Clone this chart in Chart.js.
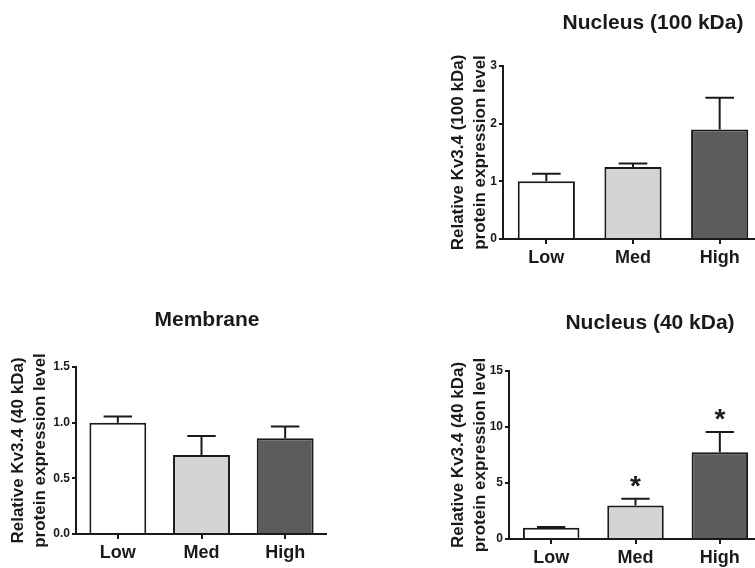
<!DOCTYPE html>
<html>
<head>
<meta charset="utf-8">
<script src="https://cdn.jsdelivr.net/npm/chart.js@4.4.0/dist/chart.umd.min.js"></script>
<style>
  html, body { margin: 0; padding: 0; background: #fff; overflow: hidden; }
  #stage { position: relative; width: 755px; height: 568px; overflow: hidden; }
  #stage canvas { position: absolute; }
</style>
</head>
<body>
<div id="stage"></div>
<script>
const categories = ['Low', 'Med', 'High'];
const barColors = ['#ffffff', '#d4d4d4', '#5c5c5c'];

// Nucleus (100 kDa)
const nuc100Means = [1.0, 1.25, 1.9];
const nuc100Errors = [0.13, 0.06, 0.55];
const nuc100Ticks = [0, 1, 2, 3];

// Membrane
const membraneMeans = [1.0, 0.71, 0.86];
const membraneErrors = [0.055, 0.17, 0.105];
const membraneTicks = [0, 0.5, 1.0, 1.5];

// Nucleus (40 kDa)
const nuc40Means = [1.0, 3.0, 7.75];
const nuc40Errors = [0.07, 0.6, 1.8];
const nuc40Ticks = [0, 5, 10, 15];
const nuc40Stars = ['', '*', '*'];

const FONT = "'Liberation Sans', Arial, sans-serif";
const INK = '#1a1a1a';

// draws upper-only error bars and significance stars (GraphPad style)
const errorBarPlugin = {
    id: 'errorBars',
    afterDatasetsDraw(chart, args, opts) {
        const ctx = chart.ctx;
        const y = chart.scales.y;
        const meta = chart.getDatasetMeta(0);
        const means = chart.data.datasets[0].data;
        ctx.save();
        ctx.strokeStyle = INK;
        ctx.lineWidth = 2;
        meta.data.forEach((bar, i) => {
            const top = y.getPixelForValue(means[i] + opts.errors[i]);
            const half = bar.width * 0.25;
            ctx.beginPath();
            ctx.moveTo(bar.x, bar.y);
            ctx.lineTo(bar.x, top);
            ctx.moveTo(bar.x - half, top);
            ctx.lineTo(bar.x + half, top);
            ctx.stroke();
            const star = (opts.stars || [])[i];
            if (star) {
                ctx.fillStyle = INK;
                ctx.font = 'bold 28px ' + FONT;
                ctx.textAlign = 'center';
                ctx.textBaseline = 'alphabetic';
                ctx.fillText(star, bar.x, top - 4);
            }
        });
        ctx.restore();
    }
};

// panel heading, placed where the original figure has it (not centred on the plot)
const panelTitlePlugin = {
    id: 'panelTitle',
    afterDraw(chart, args, opts) {
        const ctx = chart.ctx;
        ctx.save();
        ctx.fillStyle = INK;
        ctx.font = 'bold 21px ' + FONT;
        ctx.textAlign = 'center';
        ctx.textBaseline = 'middle';
        ctx.fillText(opts.text, opts.x, opts.y);
        ctx.restore();
    }
};

function makePanel(p) {
    const canvas = document.createElement('canvas');
    canvas.width = p.width;
    canvas.height = p.height;
    canvas.style.left = p.left + 'px';
    canvas.style.top = p.top + 'px';
    canvas.style.width = p.width + 'px';
    canvas.style.height = p.height + 'px';
    document.getElementById('stage').appendChild(canvas);

    new Chart(canvas, {
        type: 'bar',
        data: {
            labels: categories,
            datasets: [{
                data: p.means,
                backgroundColor: barColors,
                borderColor: INK,
                borderWidth: 2,
                borderSkipped: 'bottom',
                barPercentage: p.barFrac,
                categoryPercentage: 1
            }]
        },
        options: {
            responsive: false,
            devicePixelRatio: 1,
            animation: false,
            layout: { padding: { left: 0, right: 0, top: p.chartTop, bottom: 0 } },
            plugins: {
                legend: { display: false },
                tooltip: { enabled: false },
                title: { display: false },
                panelTitle: { text: p.title, x: p.titleX, y: p.titleY },
                errorBars: { errors: p.errors, stars: p.stars }
            },
            scales: {
                x: {
                    offset: true,
                    grid: { display: true, drawOnChartArea: false, offset: false, tickLength: 5, color: INK, lineWidth: 2 },
                    border: { display: true, color: INK, width: 2 },
                    ticks: { color: INK, padding: 3, font: { family: FONT, size: 18, weight: 'bold' } },
                    afterFit: s => { s.height = p.height - p.chartBottom; }
                },
                y: {
                    min: 0,
                    max: p.ticks[p.ticks.length - 1],
                    afterBuildTicks: s => { s.ticks = p.ticks.map(v => ({ value: v })); },
                    grid: { display: true, drawOnChartArea: false, tickLength: 4, color: INK, lineWidth: 2 },
                    border: { display: true, color: INK, width: 2 },
                    ticks: {
                        color: INK,
                        padding: 2,
                        font: { family: FONT, size: 12, weight: 'bold' },
                        callback: v => p.decimals ? Number(v).toFixed(p.decimals) : String(v)
                    },
                    title: {
                        display: true,
                        text: p.yTitle,
                        color: INK,
                        font: { family: FONT, size: 17, weight: 'bold', lineHeight: 1.25 },
                        padding: { top: 8, bottom: 0 }
                    },
                    afterFit: s => { s.width = p.yAxisWidth; }
                }
            }
        },
        plugins: [errorBarPlugin, panelTitlePlugin]
    });
}

makePanel({
    title: 'Nucleus (100 kDa)',
    yTitle: ['Relative Kv3.4 (100 kDa)', 'protein expression level'],
    means: nuc100Means, errors: nuc100Errors, ticks: nuc100Ticks, decimals: 0,
    left: 440, top: 0, width: 323, height: 279, chartTop: 66, chartBottom: 239,
    titleX: 213, titleY: 23, yAxisWidth: 63, barFrac: 0.66
});

makePanel({
    title: 'Membrane',
    yTitle: ['Relative Kv3.4 (40 kDa)', 'protein expression level'],
    means: membraneMeans, errors: membraneErrors, ticks: membraneTicks, decimals: 1,
    left: 0, top: 290, width: 327, height: 284, chartTop: 77, chartBottom: 244,
    titleX: 207, titleY: 30, yAxisWidth: 76, barFrac: 0.68
});

makePanel({
    title: 'Nucleus (40 kDa)',
    yTitle: ['Relative Kv3.4 (40 kDa)', 'protein expression level'],
    means: nuc40Means, errors: nuc40Errors, ticks: nuc40Ticks, stars: nuc40Stars, decimals: 0,
    left: 440, top: 290, width: 322, height: 289, chartTop: 81, chartBottom: 249,
    titleX: 210, titleY: 33, yAxisWidth: 69, barFrac: 0.67
});
</script>
</body>
</html>
